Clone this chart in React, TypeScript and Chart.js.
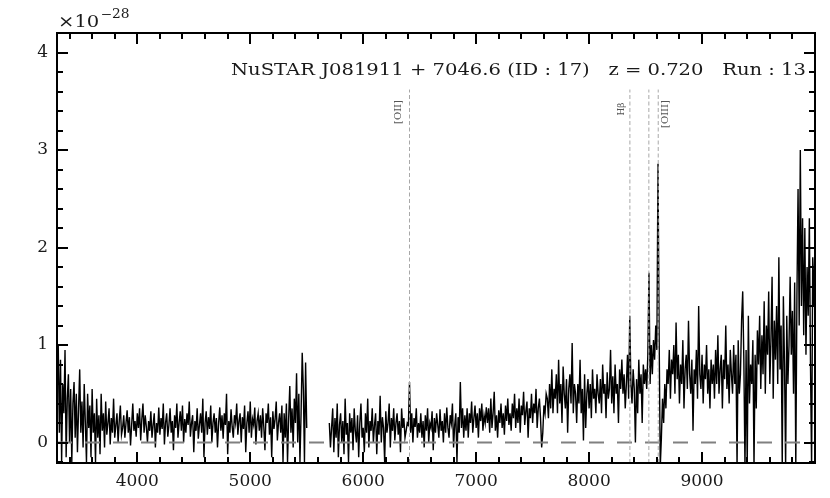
import React, { useEffect, useRef } from "react";
import { Chart, registerables } from "chart.js";

Chart.register(...registerables);

// Sampling step of the spectrum (Angstrom)
const STEP = 10;

// ---- Blue arm flux (units of 1e-28), segment start wavelengths in the names ----
const b3290 = [0.5, 1.0, 0.1, 0.85, -0.2, 0.6, 0.3, 0.95, -0.15, 0.45, 0.7, 0.0, 0.55, -0.2, 0.4, 0.62, 0.05, 0.5, -0.1, 0.35];
const b3490 = [0.75, 0.1, 0.42, -0.05, 0.6, 0.2, -0.2, 0.5, 0.15, 0.38, -0.15, 0.55, 0.1, 0.3, -0.2, 0.45, 0.05, 0.28, -0.12, 0.5];
const b3690 = [0.12, 0.3, -0.05, 0.42, 0.08, 0.2, 0.35, -0.02, 0.25, 0.1, 0.45, 0.05, 0.18, 0.3, 0.0, 0.22, 0.38, 0.08, 0.15, 0.28];
const b3890 = [0.05, 0.2, 0.33, 0.1, 0.26, -0.03, 0.18, 0.4, 0.12, 0.22, 0.06, 0.3, 0.15, 0.35, 0.02, 0.24, 0.4, 0.1, 0.28, 0.16];
const b4090 = [0.0, 0.22, 0.12, 0.32, 0.05, 0.18, 0.3, -0.05, 0.2, 0.1, 0.36, 0.08, 0.25, 0.14, 0.4, -0.02, 0.2, 0.3, 0.06, 0.18];
const b4290 = [0.35, 0.1, 0.22, -0.08, 0.28, 0.15, 0.4, 0.05, 0.2, 0.32, 0.12, 0.38, 0.0, 0.24, 0.1, 0.3, 0.18, 0.42, 0.06, 0.2];
const b4490 = [0.28, -0.1, 0.22, 0.12, 0.35, 0.04, 0.18, 0.3, 0.1, 0.45, -0.15, 0.2, 0.32, 0.08, 0.26, 0.14, 0.38, 0.0, 0.2, 0.3];
const b4690 = [0.1, 0.25, -0.05, 0.2, 0.36, 0.12, 0.28, 0.04, 0.3, 0.18, 0.5, -0.12, 0.22, 0.1, 0.34, 0.16, 0.05, 0.28, 0.2, 0.4];
const b4890 = [0.08, 0.22, 0.3, 0.0, 0.26, 0.14, 0.38, -0.1, 0.2, 0.32, 0.1, 0.42, 0.05, 0.24, 0.18, 0.36, -0.02, 0.22, 0.3, 0.12];
const b5090 = [0.28, 0.05, 0.35, 0.16, -0.08, 0.3, 0.2, 0.4, 0.08, 0.26, -0.15, 0.32, 0.14, 0.24, 0.42, 0.02, 0.2, 0.3, 0.1, 0.38];
const b5290 = [-0.2, 0.3, 0.05, 0.4, -0.2, 0.25, 0.58, 0.1, 0.35, -0.05, 0.45, 0.2, 0.71, 0.0, 0.5, -0.2, 0.3, 0.92, 0.55, -0.2, 0.82, 0.15];

// ---- Red arm flux ----
const r5700 = [0.2, -0.05, 0.15, 0.35, -0.1, 0.25, 0.05, 0.4, -0.15, 0.18, 0.3, 0.0, 0.22, -0.12, 0.45, 0.08, 0.2, -0.2, 0.3, 0.1];
const r5900 = [0.25, -0.08, 0.35, 0.12, 0.0, 0.28, -0.15, 0.2, 0.4, 0.05, 0.15, -0.1, 0.3, 0.1, 0.45, -0.05, 0.22, 0.12, 0.35, 0.0];
const r6100 = [0.18, 0.3, -0.12, 0.22, 0.08, 0.48, 0.0, 0.26, 0.15, -0.2, 0.32, 0.1, 0.2, 0.4, -0.05, 0.25, 0.12, 0.35, 0.02, 0.2];
const r6300 = [0.3, 0.08, 0.22, -0.1, 0.35, 0.15, 0.25, 0.05, 0.12, 0.2, 0.18, 0.62, 0.1, 0.3, 0.0, 0.25, 0.16, 0.35, 0.05, 0.2];
const r6500 = [0.1, 0.3, 0.05, 0.22, -0.05, 0.28, 0.12, 0.35, 0.0, 0.2, 0.15, 0.32, -0.08, 0.25, 0.1, 0.3, 0.18, 0.05, 0.34, 0.12];
const r6700 = [0.22, 0.0, 0.3, 0.1, 0.36, 0.15, 0.05, 0.28, 0.2, 0.4, -0.05, 0.18, 0.3, -0.2, 0.26, 0.1, 0.62, 0.15, 0.35, 0.05];
const r6900 = [0.28, 0.12, 0.35, 0.05, 0.3, 0.2, 0.42, 0.1, 0.25, 0.38, 0.15, 0.3, 0.05, 0.35, 0.22, 0.4, 0.12, 0.28, 0.2, 0.36];
const r7100 = [0.2, 0.35, 0.1, 0.45, 0.15, 0.3, 0.52, 0.12, 0.28, 0.05, 0.33, 0.2, 0.4, 0.15, 0.3, 0.08, 0.38, 0.22, 0.45, 0.18];
const r7300 = [0.3, 0.12, 0.4, 0.25, 0.5, 0.15, 0.35, 0.2, 0.45, 0.1, 0.38, 0.28, 0.52, 0.18, 0.32, 0.42, 0.05, 0.35, 0.25, 0.5];
const r7500 = [0.2, 0.4, 0.3, 0.55, 0.15, 0.35, 0.45, 0.25, -0.05, 0.1, 0.38, 0.3, 0.5, 0.45, 0.25, 0.6, 0.35, 0.75, 0.3, 0.55];
const r7700 = [0.45, 0.7, 0.3, 0.85, 0.4, 0.6, 0.2, 0.78, 0.5, 0.35, 0.65, 0.1, 0.55, 0.7, 0.4, 1.02, 0.3, 0.6, 0.5, 0.2];
const r7900 = [0.6, 0.4, 0.85, 0.3, 0.55, 0.02, 0.7, 0.15, 0.5, 0.65, 0.35, 0.6, 0.25, 0.75, 0.45, 0.55, 0.3, 0.7, 0.5, 0.4];
const r8100 = [0.65, 0.3, 0.8, 0.5, 0.6, 0.25, 0.72, 0.45, 0.55, 0.95, 0.4, 0.68, 0.3, 0.8, 0.5, 0.6, 0.2, 0.75, 0.55, 0.85];
const r8300 = [0.5, 0.7, 0.35, 0.6, 0.9, 0.45, 1.3, 0.6, 0.4, 0.75, 0.55, 0.0, 0.65, 0.3, 0.85, 0.5, 0.7, 0.2, 0.8, 0.6];
const r8500 = [0.75, 0.55, 0.9, 1.74, 0.6, 1.0, 0.7, 1.05, 0.85, 1.2, 0.95, 2.86, 1.1, -0.25, 0.05, 0.45, 0.2, 0.6, 0.35, 0.75];
const r8700 = [0.6, 0.95, 0.45, 0.85, 0.7, 1.0, 0.5, 1.23, 0.65, 0.9, 0.4, 0.8, 0.6, 1.05, 0.35, 0.75, 0.9, 0.55, 1.25, 0.7];
const r8900 = [0.5, 0.85, 0.12, 0.75, 0.6, 0.95, 0.45, 1.4, 0.7, 0.55, 0.9, 0.4, 0.8, 0.65, 1.0, 0.5, 0.75, 0.35, 0.85, 0.6];
const r9100 = [0.8, 0.45, 0.95, 0.6, 1.1, 0.5, 0.75, 0.9, 0.35, 0.85, 0.65, 1.2, 0.55, 0.8, 0.4, 0.95, 0.7, 0.5, 1.0, 0.6];
const r9300 = [0.9, -0.25, 1.05, 0.5, 0.7, 1.25, 1.55, 0.85, -0.25, 0.95, -0.25, 1.3, 0.4, 0.8, 0.6, 1.05, -0.25, 0.9, 0.35, 1.15];
const r9500 = [0.8, 1.3, 0.55, 1.1, 0.7, 1.45, 0.5, 1.2, 0.9, 1.55, 0.6, 1.05, 1.7, 0.45, 1.25, 0.85, 1.4, 0.6, 1.9, 0.75];
const r9700 = [1.2, -0.25, 1.5, 0.8, -0.25, 1.3, 0.6, 1.0, 1.7, 0.9, 1.35, 0.5, 1.64, -0.25, 1.5, 2.6, 1.2, 3.0, 1.4, 2.3];
const r9900 = [1.1, 2.2, 0.9, 1.8, 1.3, 2.3, 0.8, -0.25, 1.9, 1.4, 2.1];

const blueSegments: [number, number[]][] = [
  [3290, b3290], [3490, b3490], [3690, b3690], [3890, b3890], [4090, b4090], [4290, b4290],
  [4490, b4490], [4690, b4690], [4890, b4890], [5090, b5090], [5290, b5290],
];
const redSegments: [number, number[]][] = [
  [5700, r5700], [5900, r5900], [6100, r6100], [6300, r6300], [6500, r6500], [6700, r6700],
  [6900, r6900], [7100, r7100], [7300, r7300], [7500, r7500], [7700, r7700], [7900, r7900],
  [8100, r8100], [8300, r8300], [8500, r8500], [8700, r8700], [8900, r8900], [9100, r9100],
  [9300, r9300], [9500, r9500], [9700, r9700], [9900, r9900],
];

// Emission lines (observed wavelength, z = 0.720)
const lineWaves = [6410, 8361, 8529, 8612];
const lineNames = ["[OII]", "Hβ", "", "[OIII]"];

// Axis ranges and ticks
const X_MIN = 3289;
const X_MAX = 10000;
const Y_MIN = -0.21;
const Y_MAX = 4.2;
const xMajorTicks = [4000, 5000, 6000, 7000, 8000, 9000];
const xMinorTicks = [3400, 3600, 3800, 4200, 4400, 4600, 4800, 5200, 5400, 5600, 5800, 6200, 6400, 6600, 6800, 7200, 7400, 7600, 7800, 8200, 8400, 8600, 8800, 9200, 9400, 9600, 9800];
const yMajorTicks = [0, 1, 2, 3, 4];
const yMinorTicks = [-0.2, 0.2, 0.4, 0.6, 0.8, 1.2, 1.4, 1.6, 1.8, 2.2, 2.4, 2.6, 2.8, 3.2, 3.4, 3.6, 3.8];
const LINE_TOP = 3.62;

const titleText = "NuSTAR J081911 + 7046.6 (ID : 17)   z = 0.720   Run : 13";

const FONT = '"DejaVu Serif", serif';

function toPoints(segs: [number, number[]][]) {
  const pts: { x: number; y: number }[] = [];
  for (const [start, vals] of segs) {
    vals.forEach((v, i) => pts.push({ x: start + i * STEP, y: v }));
  }
  return pts;
}

const decorPlugin = {
  id: "decor",
  afterDatasetsDraw(chart: any) {
    const { ctx, chartArea: a, scales } = chart;
    const x = scales.x;
    const y = scales.y;
    ctx.save();

    // emission line labels
    ctx.fillStyle = "#555";
    ctx.textAlign = "center";
    ctx.textBaseline = "middle";
    const offsets = [-11, -8.5, 0, 7.5];
    const yc = [112, 109, 112, 114];
    lineWaves.forEach((w, i) => {
      const name = lineNames[i];
      if (!name) return;
      ctx.save();
      ctx.font = (name === "Hβ" ? "9px " : "10px ") + FONT;
      ctx.translate(x.getPixelForValue(w) + offsets[i], yc[i]);
      ctx.rotate(-Math.PI / 2);
      ctx.fillText(name, 0, 0);
      ctx.restore();
    });

    // frame
    ctx.strokeStyle = "#000";
    ctx.lineWidth = 2;
    ctx.strokeRect(a.left, a.top, a.right - a.left, a.bottom - a.top);

    // inward ticks
    const drawX = (vals: number[], len: number) => {
      vals.forEach((v) => {
        const px = Math.round(x.getPixelForValue(v));
        ctx.beginPath();
        ctx.moveTo(px, a.bottom);
        ctx.lineTo(px, a.bottom - len);
        ctx.moveTo(px, a.top);
        ctx.lineTo(px, a.top + len);
        ctx.stroke();
      });
    };
    const drawY = (vals: number[], len: number) => {
      vals.forEach((v) => {
        const py = Math.round(y.getPixelForValue(v));
        ctx.beginPath();
        ctx.moveTo(a.left, py);
        ctx.lineTo(a.left + len, py);
        ctx.moveTo(a.right, py);
        ctx.lineTo(a.right - len, py);
        ctx.stroke();
      });
    };
    drawX(xMajorTicks, 11);
    drawX(xMinorTicks, 6);
    drawY(yMajorTicks, 11);
    drawY(yMinorTicks, 6);

    // title inside axes
    ctx.fillStyle = "#1a1a1a";
    ctx.font = "17px " + FONT;
    ctx.textAlign = "right";
    ctx.textBaseline = "alphabetic";
    const tw = ctx.measureText(titleText).width;
    const sx = 575 / tw;
    ctx.save();
    ctx.translate(a.right - 9, a.top + 42);
    ctx.scale(sx, 1);
    ctx.fillText(titleText, 0, 0);
    ctx.restore();

    // exponent label
    ctx.textAlign = "left";
    ctx.save();
    ctx.translate(a.left + 1, 27);
    ctx.scale(1.15, 1);
    ctx.font = "17px " + FONT;
    ctx.fillText("×10", 0, 0);
    const w10 = ctx.measureText("×10").width;
    ctx.font = "12px " + FONT;
    ctx.fillText("−28", w10 + 1, -9);
    ctx.restore();

    ctx.restore();
  },
};

export default function App() {
  const ref = useRef<HTMLCanvasElement | null>(null);

  useEffect(() => {
    if (!ref.current) return;
    const vlines = lineWaves.map((w) => ({
      data: [
        { x: w, y: Y_MIN },
        { x: w, y: LINE_TOP },
      ],
      borderColor: "#a8a8a8",
      borderWidth: 1,
      borderDash: [4, 2.5],
      pointRadius: 0,
      order: 0,
    }));
    const chart = new Chart(ref.current, {
      type: "line",
      data: {
        datasets: [
          ...vlines,
          {
            data: [
              { x: X_MIN, y: 0 },
              { x: X_MAX, y: 0 },
            ],
            borderColor: "#808080",
            borderWidth: 2,
            borderDash: [15, 13],
            pointRadius: 0,
            order: 1,
          },
          {
            data: toPoints(blueSegments),
            borderColor: "#000",
            borderWidth: 1.4,
            pointRadius: 0,
            order: 2,
          },
          {
            data: toPoints(redSegments),
            borderColor: "#000",
            borderWidth: 1.4,
            pointRadius: 0,
            order: 2,
          },
        ],
      },
      options: {
        animation: false,
        responsive: false,
        maintainAspectRatio: false,
        devicePixelRatio: 1,
        parsing: false as any,
        layout: { padding: { top: 33, right: 15, left: 0, bottom: 0 } },
        plugins: { legend: { display: false }, tooltip: { enabled: false } },
        elements: { line: { tension: 0 }, point: { radius: 0 } },
        scales: {
          x: {
            type: "linear",
            min: X_MIN,
            max: X_MAX,
            afterBuildTicks: (s: any) => {
              s.ticks = xMajorTicks.map((v) => ({ value: v }));
            },
            afterFit: (s: any) => {
              s.height = 35;
            },
            grid: { display: false, drawTicks: false },
            border: { display: false },
            ticks: {
              autoSkip: false,
              maxRotation: 0,
              padding: 8,
              color: "#1a1a1a",
              font: { family: FONT, size: 17 },
              callback: (v: any) => String(v),
            },
          },
          y: {
            type: "linear",
            min: Y_MIN,
            max: Y_MAX,
            afterBuildTicks: (s: any) => {
              s.ticks = yMajorTicks.map((v) => ({ value: v }));
            },
            afterFit: (s: any) => {
              s.width = 57;
            },
            grid: { display: false, drawTicks: false },
            border: { display: false },
            ticks: {
              padding: 9,
              color: "#1a1a1a",
              font: { family: FONT, size: 17 },
              callback: (v: any) => String(v),
            },
          },
        },
      },
      plugins: [decorPlugin],
    } as any);
    return () => chart.destroy();
  }, []);

  return (
    <div style={{ position: "absolute", left: 0, top: 0, width: 830, height: 498, background: "#fff" }}>
      <canvas ref={ref} width={830} height={498} style={{ width: 830, height: 498 }} />
    </div>
  );
}
